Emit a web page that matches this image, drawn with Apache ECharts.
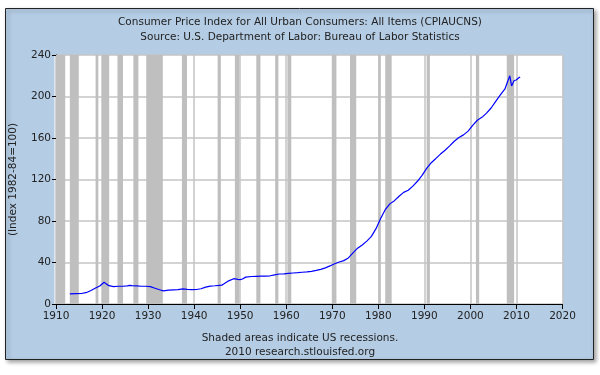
<!DOCTYPE html>
<html>
<head>
<meta charset="utf-8">
<script src="https://cdn.jsdelivr.net/npm/echarts@6/dist/echarts.min.js"></script>
<style>
  html, body { margin: 0; padding: 0; background: #fff; }
  #main { width: 600px; height: 375px; }
</style>
</head>
<body>
<div id="main"></div>
<script>
// CPI data, decimal year -> index value
var dates = [1913.0, 1914.5, 1915.5, 1916.5, 1917.5, 1918.5, 1919.5, 1920.45, 1920.9, 1921.5,
  1922.5, 1923.5, 1924.5, 1925.5, 1926.0, 1926.5, 1927.5, 1928.5, 1929.5, 1930.5,
  1931.5, 1932.5, 1933.3, 1934.5, 1935.5, 1936.5, 1937.6, 1938.5, 1939.5, 1940.5,
  1941.5, 1942.5, 1943.5, 1944.5, 1945.5, 1946.0, 1946.5, 1947.5, 1948.6, 1949.5,
  1950.0, 1950.5, 1951.2, 1951.5, 1952.5, 1953.5, 1954.5, 1955.5, 1956.5, 1957.5,
  1958.5, 1959.5, 1960.5, 1961.5, 1962.5, 1963.5, 1964.5, 1965.5, 1966.5, 1967.5,
  1968.5, 1969.5, 1970.5, 1971.5, 1972.5, 1973.5, 1974.5, 1975.5, 1976.5, 1977.5,
  1978.5, 1979.5, 1980.5, 1981.5, 1982.5, 1983.5, 1984.5, 1985.5, 1986.5, 1987.5,
  1988.5, 1989.5, 1990.5, 1991.5, 1992.5, 1993.5, 1994.5, 1995.5, 1996.5, 1997.5,
  1998.5, 1999.5, 2000.5, 2001.5, 2002.5, 2003.5, 2004.5, 2005.5, 2006.5, 2007.5,
  2008.55, 2008.95, 2009.5, 2009.95, 2010.5, 2010.8];
var cpi = [9.8, 10.0, 10.1, 10.9, 12.8, 15.1, 17.3, 21.0, 19.4, 17.7,
  16.8, 17.1, 17.1, 17.5, 17.9, 17.7, 17.4, 17.1, 17.1, 16.7,
  15.2, 13.7, 12.6, 13.4, 13.7, 13.9, 14.5, 14.1, 13.9, 14.0,
  14.7, 16.3, 17.3, 17.6, 18.0, 18.2, 19.5, 22.3, 24.4, 23.8,
  23.5, 24.1, 25.9, 26.0, 26.5, 26.7, 26.9, 26.8, 27.2, 28.1,
  28.9, 29.1, 29.6, 29.9, 30.2, 30.6, 31.0, 31.5, 32.4, 33.4,
  34.8, 36.7, 38.8, 40.5, 41.8, 44.4, 49.3, 53.8, 56.9, 60.6,
  65.2, 72.6, 82.4, 90.9, 96.5, 99.6, 103.9, 107.6, 109.6, 113.6,
  118.3, 124.0, 130.7, 136.2, 140.3, 144.5, 148.2, 152.4, 156.9, 160.5,
  163.0, 166.6, 172.2, 177.1, 179.9, 184.0, 188.9, 195.3, 201.6, 207.3,
  219.96, 210.2, 215.4, 215.9, 218.0, 218.7];

// US recessions (start, end) in decimal years
var recStart = [1910.0, 1913.0, 1918.6, 1920.0, 1923.35, 1926.8, 1929.6, 1937.35, 1945.1, 1948.85,
  1953.5, 1957.6, 1960.25, 1969.9, 1973.85, 1980.0, 1981.5, 1990.5, 2001.2, 2007.9];
var recEnd = [1912.0, 1914.95, 1919.2, 1921.55, 1924.55, 1927.9, 1933.2, 1938.45, 1945.8, 1949.8,
  1954.4, 1958.3, 1961.1, 1970.9, 1975.2, 1980.55, 1982.9, 1991.2, 2001.9, 2009.5];

var xTicks = [1910, 2020, 10];
var yTicks = [0, 240, 40];

var FONT = 'DejaVu Sans';
var chart = echarts.init(document.getElementById('main'), null, { renderer: 'canvas' });

var areas = [];
for (var i = 0; i < recStart.length; i++) {
  areas.push([{ xAxis: recStart[i] }, { xAxis: recEnd[i] }]);
}
var lineData = [];
for (var j = 0; j < dates.length; j++) {
  lineData.push([dates[j], cpi[j]]);
}

var option = {
  backgroundColor: '#ffffff',
  animation: false,
  graphic: [{
    type: 'rect', z: -10,
    shape: { x: 5.5, y: 8.5, width: 588, height: 351 },
    style: { fill: '#b4cce4', stroke: '#222', lineWidth: 1,
      shadowBlur: 4, shadowOffsetX: 2, shadowOffsetY: 2, shadowColor: 'rgba(0,0,0,0.35)' }
  }, {
    type: 'rect', z: -5,
    shape: { x: 54.5, y: 55, width: 508, height: 249 },
    style: { fill: '#ffffff' }
  }],
  title: [{
    text: 'Consumer Price Index for All Urban Consumers: All Items (CPIAUCNS)\nSource: U.S. Department of Labor: Bureau of Labor Statistics',
    left: 'center', top: 10,
    textStyle: { fontFamily: FONT, fontSize: 10.5, fontWeight: 'normal', color: '#222', lineHeight: 15 }
  }, {
    text: 'Shaded areas indicate US recessions.\n2010 research.stlouisfed.org',
    left: 'center', top: 326,
    textStyle: { fontFamily: FONT, fontSize: 10.5, fontWeight: 'normal', color: '#222', lineHeight: 14 }
  }],
  grid: { left: 54.5, right: 37.5, top: 55, bottom: 71 },
  xAxis: {
    type: 'value', min: xTicks[0], max: xTicks[1], interval: xTicks[2],
    axisLine: { show: true, lineStyle: { color: '#000', width: 1 } },
    axisTick: { show: true, length: 5, lineStyle: { color: '#000' } },
    axisLabel: { fontFamily: FONT, fontSize: 10.5, color: '#222', margin: 7,
      formatter: function (v) { return String(v); } },
    splitLine: { show: true, lineStyle: { color: '#c4c4c4', width: 1.5 } }
  },
  yAxis: {
    type: 'value', min: yTicks[0], max: yTicks[1], interval: yTicks[2],
    name: '(Index 1982-84=100)', nameLocation: 'middle', nameGap: 37, nameRotate: 90,
    nameTextStyle: { fontFamily: FONT, fontSize: 10.5, color: '#222' },
    axisLine: { show: true, lineStyle: { color: '#000', width: 1 } },
    axisTick: { show: true, length: 4, lineStyle: { color: '#000' } },
    axisLabel: { fontFamily: FONT, fontSize: 10.5, color: '#222', margin: 5 },
    splitLine: { show: true, lineStyle: { color: '#c4c4c4', width: 1.5 } }
  },
  series: [{
    type: 'line',
    data: lineData,
    showSymbol: false,
    lineStyle: { color: '#0000ff', width: 1.2 },
    z: 5,
    markArea: {
      silent: true,
      itemStyle: { color: '#bfbfbf' },
      data: areas
    }
  }]
};
chart.setOption(option);
</script>
</body>
</html>
